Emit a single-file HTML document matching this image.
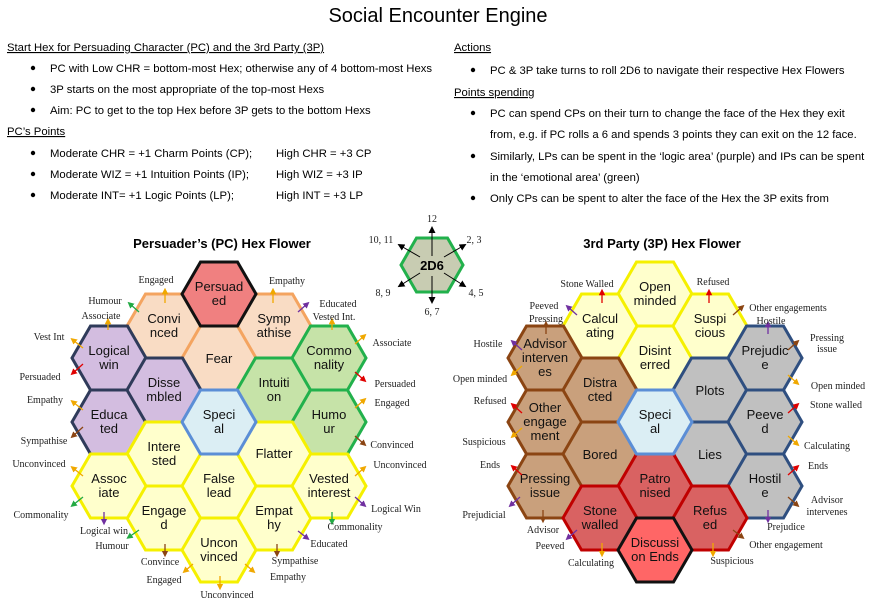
<!DOCTYPE html>
<html><head><meta charset="utf-8"><style>
body{margin:0;background:#fff;}
svg{display:block;}
.t{font-family:"Liberation Sans",Arial,sans-serif;font-size:11.3px;fill:#000;}
.h{font-family:"Liberation Sans",Arial,sans-serif;font-size:13px;fill:#111;text-anchor:middle;}
.s{font-family:"Liberation Serif",serif;font-size:10px;fill:#222;text-anchor:middle;}
</style></head><body>
<svg width="876" height="603" viewBox="0 0 876 603" xmlns="http://www.w3.org/2000/svg">
<defs>
<polygon id="hx" points="-37,0 -18.5,-32 18.5,-32 37,0 18.5,32 -18.5,32"/>
<marker id="mo" markerWidth="5" markerHeight="5" refX="2.5" refY="2.5" orient="auto"><path d="M0,0L5,2.5L0,5z" fill="#f0a800"/></marker>
<marker id="mg" markerWidth="5" markerHeight="5" refX="2.5" refY="2.5" orient="auto"><path d="M0,0L5,2.5L0,5z" fill="#22aa44"/></marker>
<marker id="mr" markerWidth="5" markerHeight="5" refX="2.5" refY="2.5" orient="auto"><path d="M0,0L5,2.5L0,5z" fill="#e00000"/></marker>
<marker id="mb" markerWidth="5" markerHeight="5" refX="2.5" refY="2.5" orient="auto"><path d="M0,0L5,2.5L0,5z" fill="#8b4513"/></marker>
<marker id="mp" markerWidth="5" markerHeight="5" refX="2.5" refY="2.5" orient="auto"><path d="M0,0L5,2.5L0,5z" fill="#7030a0"/></marker>
<marker id="mk" markerWidth="7" markerHeight="7" refX="3" refY="3.5" orient="auto"><path d="M0,0L7,3.5L0,7z" fill="#000"/></marker>
</defs>

<text x="438" y="22" font-family="Liberation Sans, Arial, sans-serif" font-size="20" text-anchor="middle">Social Encounter Engine</text>

<g class="t">
<text x="7" y="51" text-decoration="underline">Start Hex for Persuading Character (PC) and the 3rd Party (3P)</text>
<text x="50" y="72">PC with Low CHR = bottom-most Hex; otherwise any of 4 bottom-most Hexs</text>
<text x="50" y="93">3P starts on the most appropriate of the top-most Hexs</text>
<text x="50" y="114">Aim: PC to get to the top Hex before 3P gets to the bottom Hexs</text>
<text x="7" y="135" text-decoration="underline">PC’s Points</text>
<text x="50" y="157">Moderate CHR = +1 Charm Points (CP);</text><text x="276" y="157">High CHR = +3 CP</text>
<text x="50" y="178">Moderate WIZ = +1 Intuition Points (IP);</text><text x="276" y="178">High WIZ = +3 IP</text>
<text x="50" y="199">Moderate INT= +1 Logic Points (LP);</text><text x="276" y="199">High INT = +3 LP</text>
<text x="454" y="51" text-decoration="underline">Actions</text>
<text x="490" y="74">PC &amp; 3P take turns to roll 2D6 to navigate their respective Hex Flowers</text>
<text x="454" y="96" text-decoration="underline">Points spending</text>
<text x="490" y="117">PC can spend CPs on their turn to change the face of the Hex they exit</text>
<text x="490" y="138">from, e.g. if PC rolls a 6 and spends 3 points they can exit on the 12 face.</text>
<text x="490" y="160">Similarly, LPs can be spent in the ‘logic area’ (purple) and IPs can be spent</text>
<text x="490" y="181">in the ‘emotional area’ (green)</text>
<text x="490" y="202">Only CPs can be spent to alter the face of the Hex the 3P exits from</text>
</g>
<g fill="#000">
<circle cx="33" cy="68" r="2.2"/><circle cx="33" cy="89" r="2.2"/><circle cx="33" cy="110" r="2.2"/>
<circle cx="33" cy="153" r="2.2"/><circle cx="33" cy="174" r="2.2"/><circle cx="33" cy="195" r="2.2"/>
<circle cx="473" cy="70" r="2.2"/><circle cx="473" cy="113" r="2.2"/><circle cx="473" cy="156" r="2.2"/><circle cx="473" cy="198" r="2.2"/>
</g>

<text x="222" y="248" font-family="Liberation Sans, Arial, sans-serif" font-size="13" font-weight="bold" text-anchor="middle">Persuader’s (PC) Hex Flower</text>
<text x="662" y="248" font-family="Liberation Sans, Arial, sans-serif" font-size="13" font-weight="bold" text-anchor="middle">3rd Party (3P) Hex Flower</text>

<!-- 2D6 -->
<polygon points="401,265 416.5,238 447.5,238 463,265 447.5,292 416.5,292" fill="#c8ccb2" stroke="#22b14c" stroke-width="3"/>
<g stroke="#000" stroke-width="1" marker-end="url(#mk)">
<line x1="432" y1="256" x2="432" y2="230"/><line x1="420" y1="257" x2="401" y2="246"/><line x1="444" y1="257" x2="463" y2="246"/>
<line x1="420" y1="273" x2="401" y2="285"/><line x1="444" y1="273" x2="463" y2="285"/><line x1="432" y1="276" x2="432" y2="300"/>
</g>
<rect x="418" y="258" width="28" height="14" fill="#c8ccb2"/>
<text x="432" y="270" font-family="Liberation Sans, Arial, sans-serif" font-size="13" font-weight="bold" text-anchor="middle">2D6</text>
<g class="s" font-size="11">
<text x="432" y="222">12</text><text x="381" y="243">10, 11</text><text x="474" y="243">2, 3</text>
<text x="383" y="296">8, 9</text><text x="476" y="296">4, 5</text><text x="432" y="315">6, 7</text>
</g>

<!-- PC hexes -->
<g stroke-width="3">
<use href="#hx" x="164" y="326" fill="#f9dcc4" stroke="#f4a460"/>
<use href="#hx" x="274" y="326" fill="#f9dcc4" stroke="#f4a460"/>
<use href="#hx" x="219" y="358" fill="#f9dcc4" stroke="#f4a460"/>
<use href="#hx" x="109" y="358" fill="#d3bde0" stroke="#2f3b5a"/>
<use href="#hx" x="109" y="422" fill="#d3bde0" stroke="#2f3b5a"/>
<use href="#hx" x="164" y="390" fill="#d3bde0" stroke="#2f3b5a"/>
<use href="#hx" x="274" y="390" fill="#c6e3a8" stroke="#22b14c"/>
<use href="#hx" x="329" y="358" fill="#c6e3a8" stroke="#22b14c"/>
<use href="#hx" x="329" y="422" fill="#c6e3a8" stroke="#22b14c"/>
<use href="#hx" x="164" y="454" fill="#ffffcc" stroke="#f5f000"/>
<use href="#hx" x="164" y="518" fill="#ffffcc" stroke="#f5f000"/>
<use href="#hx" x="274" y="454" fill="#ffffcc" stroke="#f5f000"/>
<use href="#hx" x="274" y="518" fill="#ffffcc" stroke="#f5f000"/>
<use href="#hx" x="109" y="486" fill="#ffffcc" stroke="#f5f000"/>
<use href="#hx" x="329" y="486" fill="#ffffcc" stroke="#f5f000"/>
<use href="#hx" x="219" y="486" fill="#ffffcc" stroke="#f5f000"/>
<use href="#hx" x="219" y="550" fill="#ffffcc" stroke="#f5f000"/>
<use href="#hx" x="219" y="422" fill="#dbeef4" stroke="#5b8ed6"/>
<use href="#hx" x="219" y="294" fill="#f08080" stroke="#111"/>
</g>
<g class="h">
<text x="219" y="291">Persuad</text><text x="219" y="305">ed</text>
<text x="164" y="323">Convi</text><text x="164" y="337">nced</text>
<text x="274" y="323">Symp</text><text x="274" y="337">athise</text>
<text x="219" y="363">Fear</text>
<text x="109" y="355">Logical</text><text x="109" y="369">win</text>
<text x="164" y="387">Disse</text><text x="164" y="401">mbled</text>
<text x="274" y="387">Intuiti</text><text x="274" y="401">on</text>
<text x="329" y="355">Commo</text><text x="329" y="369">nality</text>
<text x="219" y="419">Speci</text><text x="219" y="433">al</text>
<text x="109" y="419">Educa</text><text x="109" y="433">ted</text>
<text x="329" y="419">Humo</text><text x="329" y="433">ur</text>
<text x="164" y="451">Intere</text><text x="164" y="465">sted</text>
<text x="274" y="458">Flatter</text>
<text x="109" y="483">Assoc</text><text x="109" y="497">iate</text>
<text x="219" y="483">False</text><text x="219" y="497">lead</text>
<text x="329" y="483">Vested</text><text x="329" y="497">interest</text>
<text x="164" y="515">Engage</text><text x="164" y="529">d</text>
<text x="274" y="515">Empat</text><text x="274" y="529">hy</text>
<text x="219" y="547">Uncon</text><text x="219" y="561">vinced</text>
</g>

<!-- 3P hexes -->
<g stroke-width="3">
<use href="#hx" x="655" y="294" fill="#ffffcc" stroke="#f5f000"/>
<use href="#hx" x="655" y="358" fill="#ffffcc" stroke="#f5f000"/>
<use href="#hx" x="600" y="326" fill="#ffffcc" stroke="#f5f000"/>
<use href="#hx" x="710" y="326" fill="#ffffcc" stroke="#f5f000"/>
<use href="#hx" x="545" y="358" fill="#c9a07c" stroke="#8b4513"/>
<use href="#hx" x="545" y="422" fill="#c9a07c" stroke="#8b4513"/>
<use href="#hx" x="545" y="486" fill="#c9a07c" stroke="#8b4513"/>
<use href="#hx" x="600" y="390" fill="#c9a07c" stroke="#8b4513"/>
<use href="#hx" x="600" y="454" fill="#c9a07c" stroke="#8b4513"/>
<use href="#hx" x="710" y="390" fill="#c0c0c0" stroke="#2f4f80"/>
<use href="#hx" x="710" y="454" fill="#c0c0c0" stroke="#2f4f80"/>
<use href="#hx" x="765" y="358" fill="#c0c0c0" stroke="#2f4f80"/>
<use href="#hx" x="765" y="422" fill="#c0c0c0" stroke="#2f4f80"/>
<use href="#hx" x="765" y="486" fill="#c0c0c0" stroke="#2f4f80"/>
<use href="#hx" x="655" y="486" fill="#d96262" stroke="#c00000"/>
<use href="#hx" x="600" y="518" fill="#d96262" stroke="#c00000"/>
<use href="#hx" x="710" y="518" fill="#d96262" stroke="#c00000"/>
<use href="#hx" x="655" y="422" fill="#dbeef4" stroke="#5b8ed6"/>
<use href="#hx" x="655" y="550" fill="#ff6666" stroke="#111"/>
</g>
<g class="h">
<text x="655" y="291">Open</text><text x="655" y="305">minded</text>
<text x="600" y="323">Calcul</text><text x="600" y="337">ating</text>
<text x="710" y="323">Suspi</text><text x="710" y="337">cious</text>
<text x="655" y="355">Disint</text><text x="655" y="369">erred</text>
<text x="545" y="348">Advisor</text><text x="545" y="362">interven</text><text x="545" y="376">es</text>
<text x="600" y="387">Distra</text><text x="600" y="401">cted</text>
<text x="710" y="395">Plots</text>
<text x="765" y="355">Prejudic</text><text x="765" y="369">e</text>
<text x="545" y="412">Other</text><text x="545" y="426">engage</text><text x="545" y="440">ment</text>
<text x="655" y="419">Speci</text><text x="655" y="433">al</text>
<text x="765" y="419">Peeve</text><text x="765" y="433">d</text>
<text x="600" y="459">Bored</text>
<text x="710" y="459">Lies</text>
<text x="545" y="483">Pressing</text><text x="545" y="497">issue</text>
<text x="655" y="483">Patro</text><text x="655" y="497">nised</text>
<text x="765" y="483">Hostil</text><text x="765" y="497">e</text>
<text x="600" y="515">Stone</text><text x="600" y="529">walled</text>
<text x="710" y="515">Refus</text><text x="710" y="529">ed</text>
<text x="655" y="547">Discussi</text><text x="655" y="561">on Ends</text>
</g>

<!-- arrows -->
<g stroke-width="1.3">
<line x1="165" y1="303" x2="165" y2="291" stroke="#f0a800" marker-end="url(#mo)"/>
<line x1="139" y1="312" x2="130" y2="304" stroke="#22aa44" marker-end="url(#mg)"/>
<line x1="108" y1="330" x2="108" y2="321" stroke="#f0a800" marker-end="url(#mo)"/>
<line x1="83" y1="348" x2="73" y2="340" stroke="#f0a800" marker-end="url(#mo)"/>
<line x1="83" y1="364" x2="73" y2="373" stroke="#e00000" marker-end="url(#mr)"/>
<line x1="83" y1="410" x2="73" y2="402" stroke="#f0a800" marker-end="url(#mo)"/>
<line x1="83" y1="427" x2="73" y2="436" stroke="#8b4513" marker-end="url(#mb)"/>
<line x1="83" y1="476" x2="73" y2="468" stroke="#f0a800" marker-end="url(#mo)"/>
<line x1="83" y1="497" x2="73" y2="505" stroke="#22aa44" marker-end="url(#mg)"/>
<line x1="104" y1="512" x2="104" y2="522" stroke="#7030a0" marker-end="url(#mp)"/>
<line x1="139" y1="530" x2="129" y2="537" stroke="#22aa44" marker-end="url(#mg)"/>
<line x1="165" y1="544" x2="165" y2="554" stroke="#8b4513" marker-end="url(#mb)"/>
<line x1="193" y1="564" x2="185" y2="571" stroke="#f0a800" marker-end="url(#mo)"/>
<line x1="220" y1="576" x2="220" y2="587" stroke="#f0a800" marker-end="url(#mo)"/>
<line x1="245" y1="564" x2="253" y2="571" stroke="#f0a800" marker-end="url(#mo)"/>
<line x1="277" y1="544" x2="277" y2="554" stroke="#8b4513" marker-end="url(#mb)"/>
<line x1="298" y1="531" x2="307" y2="538" stroke="#7030a0" marker-end="url(#mp)"/>
<line x1="332" y1="512" x2="332" y2="522" stroke="#22aa44" marker-end="url(#mg)"/>
<line x1="355" y1="497" x2="364" y2="505" stroke="#7030a0" marker-end="url(#mp)"/>
<line x1="355" y1="476" x2="364" y2="468" stroke="#f0a800" marker-end="url(#mo)"/>
<line x1="355" y1="436" x2="364" y2="444" stroke="#8b4513" marker-end="url(#mb)"/>
<line x1="355" y1="408" x2="364" y2="400" stroke="#f0a800" marker-end="url(#mo)"/>
<line x1="355" y1="372" x2="364" y2="380" stroke="#e00000" marker-end="url(#mr)"/>
<line x1="355" y1="344" x2="364" y2="336" stroke="#f0a800" marker-end="url(#mo)"/>
<line x1="332" y1="330" x2="332" y2="321" stroke="#f0a800" marker-end="url(#mo)"/>
<line x1="298" y1="312" x2="307" y2="304" stroke="#7030a0" marker-end="url(#mp)"/>
<line x1="273" y1="303" x2="273" y2="291" stroke="#f0a800" marker-end="url(#mo)"/>

<line x1="602" y1="303" x2="602" y2="292" stroke="#e00000" marker-end="url(#mr)"/>
<line x1="577" y1="315" x2="568" y2="307" stroke="#7030a0" marker-end="url(#mp)"/>
<line x1="546" y1="334" x2="546" y2="324" stroke="#8b4513" marker-end="url(#mb)"/>
<line x1="522" y1="350" x2="513" y2="342" stroke="#7030a0" marker-end="url(#mp)"/>
<line x1="522" y1="366" x2="513" y2="374" stroke="#f0a800" marker-end="url(#mo)"/>
<line x1="522" y1="413" x2="513" y2="405" stroke="#e00000" marker-end="url(#mr)"/>
<line x1="522" y1="428" x2="513" y2="436" stroke="#f0a800" marker-end="url(#mo)"/>
<line x1="522" y1="475" x2="513" y2="467" stroke="#e00000" marker-end="url(#mr)"/>
<line x1="520" y1="497" x2="511" y2="505" stroke="#7030a0" marker-end="url(#mp)"/>
<line x1="543" y1="510" x2="543" y2="520" stroke="#8b4513" marker-end="url(#mb)"/>
<line x1="577" y1="530" x2="568" y2="538" stroke="#7030a0" marker-end="url(#mp)"/>
<line x1="602" y1="543" x2="602" y2="554" stroke="#f0a800" marker-end="url(#mo)"/>
<line x1="713" y1="543" x2="713" y2="554" stroke="#f0a800" marker-end="url(#mo)"/>
<line x1="733" y1="530" x2="742" y2="537" stroke="#8b4513" marker-end="url(#mb)"/>
<line x1="768" y1="510" x2="768" y2="520" stroke="#7030a0" marker-end="url(#mp)"/>
<line x1="788" y1="497" x2="797" y2="505" stroke="#8b4513" marker-end="url(#mb)"/>
<line x1="788" y1="475" x2="797" y2="467" stroke="#e00000" marker-end="url(#mr)"/>
<line x1="788" y1="436" x2="797" y2="444" stroke="#f0a800" marker-end="url(#mo)"/>
<line x1="788" y1="413" x2="797" y2="405" stroke="#e00000" marker-end="url(#mr)"/>
<line x1="788" y1="375" x2="797" y2="383" stroke="#f0a800" marker-end="url(#mo)"/>
<line x1="788" y1="350" x2="797" y2="342" stroke="#8b4513" marker-end="url(#mb)"/>
<line x1="768" y1="334" x2="768" y2="324" stroke="#7030a0" marker-end="url(#mp)"/>
<line x1="733" y1="315" x2="742" y2="307" stroke="#8b4513" marker-end="url(#mb)"/>
<line x1="709" y1="303" x2="709" y2="292" stroke="#e00000" marker-end="url(#mr)"/>
</g>

<!-- PC labels -->
<g class="s">
<text x="156" y="283">Engaged</text>
<text x="105" y="304">Humour</text>
<text x="101" y="319">Associate</text>
<text x="49" y="340">Vest Int</text>
<text x="40" y="380">Persuaded</text>
<text x="45" y="403">Empathy</text>
<text x="44" y="444">Sympathise</text>
<text x="39" y="467">Unconvinced</text>
<text x="41" y="518">Commonality</text>
<text x="104" y="534">Logical win</text>
<text x="112" y="549">Humour</text>
<text x="160" y="565">Convince</text>
<text x="164" y="583">Engaged</text>
<text x="227" y="598">Unconvinced</text>
<text x="287" y="284">Empathy</text>
<text x="338" y="307">Educated</text>
<text x="334" y="320">Vested Int.</text>
<text x="392" y="346">Associate</text>
<text x="395" y="387">Persuaded</text>
<text x="392" y="406">Engaged</text>
<text x="392" y="448">Convinced</text>
<text x="400" y="468">Unconvinced</text>
<text x="396" y="512">Logical Win</text>
<text x="355" y="530">Commonality</text>
<text x="329" y="547">Educated</text>
<text x="295" y="564">Sympathise</text>
<text x="288" y="580">Empathy</text>
</g>
<!-- 3P labels -->
<g class="s">
<text x="587" y="287">Stone Walled</text>
<text x="544" y="309">Peeved</text>
<text x="546" y="322">Pressing</text>
<text x="488" y="347">Hostile</text>
<text x="480" y="382">Open minded</text>
<text x="490" y="404">Refused</text>
<text x="484" y="445">Suspicious</text>
<text x="490" y="468">Ends</text>
<text x="484" y="518">Prejudicial</text>
<text x="543" y="533">Advisor</text>
<text x="550" y="549">Peeved</text>
<text x="591" y="566">Calculating</text>
<text x="713" y="285">Refused</text>
<text x="788" y="311">Other engagements</text>
<text x="771" y="324">Hostile</text>
<text x="827" y="341">Pressing</text>
<text x="827" y="352">issue</text>
<text x="838" y="389">Open minded</text>
<text x="836" y="408">Stone walled</text>
<text x="827" y="449">Calculating</text>
<text x="818" y="469">Ends</text>
<text x="827" y="503">Advisor</text>
<text x="827" y="515">intervenes</text>
<text x="786" y="530">Prejudice</text>
<text x="786" y="548">Other engagement</text>
<text x="732" y="564">Suspicious</text>
</g>
</svg>
</body></html>
